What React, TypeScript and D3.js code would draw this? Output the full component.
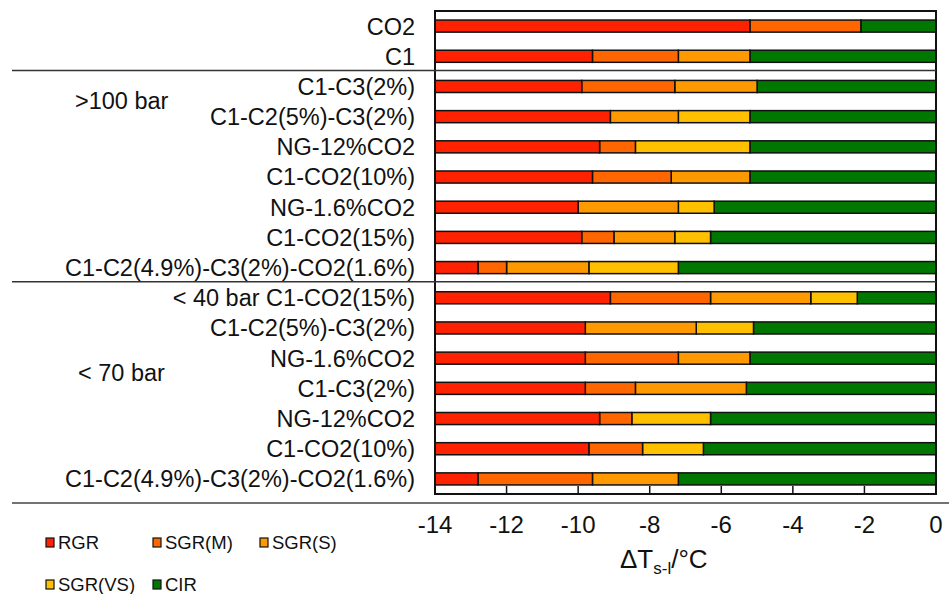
import * as d3 from 'd3';

const categories = [
  "CO2",
  "C1",
  "C1-C3(2%)",
  "C1-C2(5%)-C3(2%)",
  "NG-12%CO2",
  "C1-CO2(10%)",
  "NG-1.6%CO2",
  "C1-CO2(15%)",
  "C1-C2(4.9%)-C3(2%)-CO2(1.6%)",
  "< 40 bar C1-CO2(15%)",
  "C1-C2(5%)-C3(2%)",
  "NG-1.6%CO2",
  "C1-C3(2%)",
  "NG-12%CO2",
  "C1-CO2(10%)",
  "C1-C2(4.9%)-C3(2%)-CO2(1.6%)",
];

// contributions to ΔT (°C), stacked from 0 to the left
const rgr = [8.8, 4.4, 4.1, 4.9, 4.6, 4.4, 4.0, 4.1, 1.2, 4.9, 4.2, 4.2, 4.2, 4.6, 4.3, 1.2];
const sgrM = [3.1, 2.4, 2.6, 0, 1.0, 2.2, 0, 0.9, 0.8, 2.8, 0, 2.6, 1.4, 0.9, 1.5, 3.2];
const sgrS = [0, 2.0, 2.3, 1.9, 0, 2.2, 2.8, 1.7, 2.3, 2.8, 3.1, 2.0, 3.1, 0, 0, 2.4];
const sgrVS = [0, 0, 0, 2.0, 3.2, 0, 1.0, 1.0, 2.5, 1.3, 1.6, 0, 0, 2.2, 1.7, 0];
const cir = [2.1, 5.2, 5.0, 5.2, 5.2, 5.2, 6.2, 6.3, 7.2, 2.2, 5.1, 5.2, 5.3, 6.3, 6.5, 7.2];

const xTicks = [-14, -12, -10, -8, -6, -4, -2, 0];

const legendKeys = ["RGR", "SGR(M)", "SGR(S)", "SGR(VS)", "CIR"];
const stackKeys = ["CIR", "SGR(VS)", "SGR(S)", "SGR(M)", "RGR"];
const colors: Record<string, string> = {
  "RGR": "#ff2200",
  "SGR(M)": "#ff6600",
  "SGR(S)": "#ff9900",
  "SGR(VS)": "#ffc000",
  "CIR": "#007700",
};

const groups = [
  { label: ">100 bar", from: 2, to: 3, x: 75 },
  { label: "< 70 bar", from: 11, to: 12, x: 78 },
];
const separators = [2, 9];

export default function App() {
  const W = 949, H = 594;
  const left = 435, right = 936, top = 11, bottom = 494;
  const font = "Liberation Sans, Arial, sans-serif";

  const rows = categories.map((c, i) => ({
    idx: i,
    name: c,
    "RGR": -rgr[i],
    "SGR(M)": -sgrM[i],
    "SGR(S)": -sgrS[i],
    "SGR(VS)": -sgrVS[i],
    "CIR": -cir[i],
  }));

  const x = d3.scaleLinear().domain([-14, 0]).range([left, right]);
  const y = d3.scaleBand<number>()
    .domain(rows.map(r => r.idx))
    .range([top, bottom])
    .paddingInner(0.6)
    .paddingOuter(0.3);

  const series = d3.stack<any>()
    .keys(stackKeys)
    .offset(d3.stackOffsetDiverging)(rows);

  const gap = y.step() - y.bandwidth();
  const mid = (i: number) => (y(i) ?? 0) + y.bandwidth() / 2;

  const legendPos = [
    { x: 46, y: 538 }, { x: 153, y: 538 }, { x: 260, y: 538 },
    { x: 46, y: 580 }, { x: 153, y: 580 },
  ];

  return (
    <svg width={W} height={H} style={{ position: 'absolute', left: 0, top: 0, background: '#fff' }}
      fontFamily={font}>
      {/* bars */}
      {series.map(s => (
        <g key={s.key} fill={colors[s.key]}>
          {s.filter(d => d[1] - d[0] !== 0).map((d, j) => (
            <rect key={j}
              x={x(Math.min(d[0], d[1]))}
              y={y(d.data.idx)}
              width={Math.abs(x(d[1]) - x(d[0]))}
              height={y.bandwidth()}
              stroke="#111" strokeWidth={1.5} />
          ))}
        </g>
      ))}

      {/* frame */}
      <rect x={left} y={top} width={right - left} height={bottom - top}
        fill="none" stroke="#111" strokeWidth={2} />

      {/* ticks inward */}
      {xTicks.map(t => (
        <g key={t}>
          <line x1={x(t)} x2={x(t)} y1={bottom} y2={bottom - 8} stroke="#111" strokeWidth={1.5} />
          <text x={x(t)} y={533} fontSize={24} textAnchor="middle" fill="#111">{t === 0 ? "0" : `-${Math.abs(t)}`}</text>
        </g>
      ))}

      {/* group separators */}
      {separators.map(i => (
        <line key={i} x1={12} x2={right} y1={(y(i) ?? 0) - gap / 2 - 1} y2={(y(i) ?? 0) - gap / 2 - 1}
          stroke="#333" strokeWidth={1.5} />
      ))}
      <line x1={12} x2={W} y1={503} y2={503} stroke="#444" strokeWidth={1.5} />

      {/* category labels */}
      {rows.map(r => (
        <text key={r.idx} x={415} y={mid(r.idx)} dy="0.36em" fontSize={23.5}
          textAnchor="end" fill="#111">{r.name}</text>
      ))}

      {groups.map(g => (
        <text key={g.label} x={g.x} y={(mid(g.from) + mid(g.to)) / 2 - 1} dy="0.36em"
          fontSize={23.5} fill="#111">{g.label}</text>
      ))}

      {/* axis title */}
      <text x={620} y={568} fontSize={26} fill="#111">
        ΔT<tspan fontSize={17} dy={6}>s-l</tspan><tspan dy={-6}>/°C</tspan>
      </text>

      {/* legend */}
      {legendKeys.map((k, i) => (
        <g key={k} transform={`translate(${legendPos[i].x},${legendPos[i].y})`}>
          <rect x={0} y={0} width={8} height={9} fill={colors[k]} stroke="#111" strokeWidth={1.2} />
          <text x={12} y={11} fontSize={18.5} fill="#111">{k}</text>
        </g>
      ))}
    </svg>
  );
}
